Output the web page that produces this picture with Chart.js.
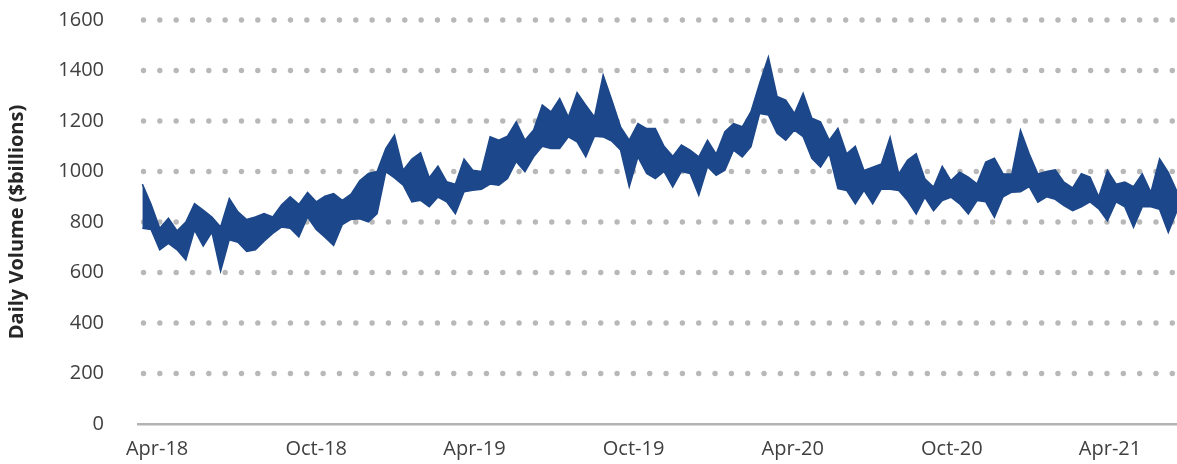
<!DOCTYPE html>
<html lang="en">
<head>
  <meta charset="UTF-8">
  <title>Daily Volume ($billions)</title>
  <script src="https://cdn.jsdelivr.net/npm/chart.js"></script>
  <style>
    html, body { margin: 0; padding: 0; background: #fff; }
  </style>
</head>
<body>
  <canvas id="volChart" width="1177" height="464"></canvas>

  <script>
    // x positions are days counted from 1 Apr 2018, one sample every 10 days
    const startDay = -17;
    const stepDays = 10;

    // upper and lower edge of the daily volume band ($bn)
    const upperEdge = [
      950, 870, 775, 815, 765, 800, 873, 847, 820, 780,
      893, 840, 810, 820, 833, 820, 867, 900, 870, 917,
      880, 902, 913, 886, 910, 963, 992, 1000, 1091, 1144,
      1005, 1049, 1074, 975, 1021, 960, 950, 1049, 1005, 1000,
      1138, 1124, 1140, 1197, 1124, 1164, 1263, 1236, 1289, 1216,
      1312, 1263, 1216, 1382, 1282, 1177, 1124, 1190, 1170, 1170,
      1100, 1060, 1105, 1085, 1058, 1124, 1069, 1158, 1190, 1177,
      1237, 1350, 1453, 1297, 1283, 1230, 1310, 1211, 1197, 1124,
      1171, 1070, 1100, 1004, 1017, 1030, 1136, 990, 1044, 1070,
      971, 938, 1020, 964, 997, 978, 951, 1037, 1053, 991,
      990, 1163, 1070, 990, 1000, 1007, 958, 935, 991, 978,
      900, 1004, 950, 958, 940, 991, 918, 1050, 997, 920
    ];
    const lowerEdge = [
      775, 770, 690, 715, 690, 650, 768, 705, 760, 605,
      730, 720, 683, 690, 724, 755, 780, 775, 741, 820,
      770, 740, 707, 790, 810, 813, 800, 833, 999, 975,
      946, 880, 886, 860, 899, 880, 833, 920, 926, 930,
      950, 946, 972, 1040, 999, 1058, 1100, 1091, 1091, 1137,
      1117, 1058, 1140, 1137, 1120, 1085, 939, 1058, 992, 972,
      1000, 939, 1000, 992, 906, 1019, 985, 1005, 1085, 1058,
      1098, 1230, 1224, 1151, 1124, 1164, 1138, 1052, 1018, 1071,
      932, 925, 872, 925, 872, 931, 930, 925, 885, 832,
      898, 845, 885, 898, 872, 832, 885, 880, 819, 900,
      918, 920, 940, 878, 900, 890, 865, 845, 860, 880,
      852, 805, 880, 860, 779, 860, 860, 850, 759, 845
    ];

    const tickDays = [0, 183, 365, 548, 731, 914, 1096];
    const tickLabels = ['Apr-18', 'Oct-18', 'Apr-19', 'Oct-19', 'Apr-20', 'Oct-20', 'Apr-21'];

    const navy = '#1c478a';
    const axisFont = { family: 'Open Sans', size: 20 };

    const toPoints = arr => arr.map((v, i) => ({ x: startDay + i * stepDays, y: v }));

    // dotted horizontal grid lines
    const dotGrid = {
      id: 'dotGrid',
      beforeDatasetsDraw(chart) {
        const { ctx, chartArea, scales } = chart;
        const y = scales.y;
        ctx.save();
        ctx.fillStyle = '#b8b8b8';
        y.ticks.forEach(t => {
          if (t.value === 0) return;
          const py = y.getPixelForValue(t.value);
          for (let px = chartArea.left + 5.5; px < chartArea.right - 4; px += 16.33) {
            ctx.beginPath();
            ctx.arc(px, py, 2.7, 0, Math.PI * 2);
            ctx.fill();
          }
        });
        ctx.restore();
      }
    };

    const volChart = new Chart(document.getElementById('volChart'), {
      type: 'line',
      data: {
        datasets: [
          {
            label: 'High',
            data: toPoints(upperEdge),
            borderColor: navy,
            backgroundColor: navy,
            borderWidth: 1.5,
            pointRadius: 0,
            tension: 0,
            fill: '+1'
          },
          {
            label: 'Low',
            data: toPoints(lowerEdge),
            borderColor: navy,
            borderWidth: 1.5,
            pointRadius: 0,
            tension: 0,
            fill: false
          }
        ]
      },
      options: {
        responsive: false,
        animation: false,
        layout: { padding: { left: 0, right: 0, top: 20, bottom: 3 } },
        plugins: {
          legend: { display: false },
          tooltip: { enabled: false }
        },
        scales: {
          x: {
            type: 'linear',
            min: -22,
            max: 1173,
            afterBuildTicks(scale) {
              scale.ticks = tickDays.map(v => ({ value: v }));
            },
            afterFit(scale) { scale.height = 37; },
            grid: { display: false, drawTicks: false },
            border: { display: true, color: '#b3b3b3', width: 2.5 },
            ticks: {
              autoSkip: false,
              maxRotation: 0,
              padding: 13,
              color: '#404040',
              font: axisFont,
              callback: (v, i) => tickLabels[i]
            }
          },
          y: {
            min: 0,
            max: 1600,
            afterFit(scale) {
              scale.width = 138;
              scale.paddingTop = 0;
              scale.paddingBottom = 0;
            },
            grid: { display: false, drawTicks: false },
            border: { display: false },
            ticks: {
              stepSize: 200,
              padding: 34,
              color: '#404040',
              font: axisFont,
              callback: v => String(v)
            },
            title: {
              display: true,
              text: 'Daily Volume ($billions)',
              color: '#262626',
              font: { family: 'Open Sans', size: 20, weight: 'bold' },
              padding: { top: 5, bottom: 0 }
            }
          }
        }
      },
      plugins: [dotGrid]
    });
  </script>
</body>
</html>
